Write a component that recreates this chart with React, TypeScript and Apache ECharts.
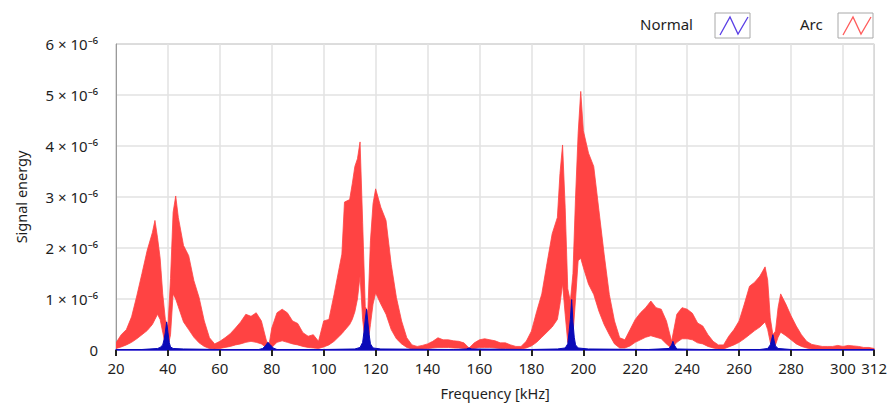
import React, { useEffect, useRef } from "react";
import * as echarts from "echarts";

// X axis (kHz)
const xMin = 20;
const xMax = 312;
const xInterval = 20;
// Y axis (×10⁻⁶)
const yMax = 6;
const yInterval = 1;

// Arc spectrum envelope: [frequency kHz, upper ×10⁻⁶, lower ×10⁻⁶]
const arcEnvelope: [number, number, number][] = [
  [20, 0.14, 0.03], [22, 0.3, 0.06], [24, 0.4, 0.1], [26, 0.65, 0.15], [28, 1.06, 0.22],
  [30, 1.5, 0.3], [32, 1.95, 0.38], [34, 2.3, 0.5], [35, 2.54, 0.6], [36, 2.2, 0.7],
  [37, 1.8, 0.6], [38, 1.1, 0.35], [39, 0.6, 0.1], [40, 0.45, 0.05], [41, 1.4, 0.3],
  [42, 2.7, 1.1], [43, 3.02, 1.0], [44, 2.6, 0.85], [46, 2.05, 0.55], [48, 1.85, 0.4],
  [50, 1.36, 0.25], [52, 1.03, 0.14], [54, 0.57, 0.07], [56, 0.24, 0.03], [58, 0.12, 0.02],
  [60, 0.17, 0.03], [62, 0.24, 0.05], [64, 0.32, 0.07], [66, 0.43, 0.1], [68, 0.55, 0.12],
  [70, 0.7, 0.15], [72, 0.66, 0.17], [74, 0.73, 0.15], [76, 0.57, 0.12], [78, 0.17, 0.04],
  [79, 0.12, 0.02], [80, 0.43, 0.05], [82, 0.73, 0.15], [84, 0.8, 0.18], [86, 0.73, 0.15],
  [88, 0.57, 0.12], [90, 0.52, 0.1], [92, 0.34, 0.07], [94, 0.27, 0.05], [96, 0.3, 0.04],
  [98, 0.17, 0.03], [100, 0.57, 0.06], [102, 0.6, 0.1], [104, 1.09, 0.17], [106, 1.62, 0.27],
  [107, 1.88, 0.32], [108, 2.9, 0.38], [110, 2.95, 0.5], [111, 3.26, 0.6], [112, 3.6, 0.75],
  [113, 3.75, 1.0], [114, 4.08, 1.45], [115, 2.5, 0.6], [116, 0.85, 0.15], [117, 0.75, 0.1],
  [118, 2.14, 0.5], [119, 2.87, 0.9], [120, 3.16, 1.12], [122, 2.8, 0.9], [124, 2.54, 0.7],
  [126, 1.68, 0.4], [128, 1.03, 0.22], [130, 0.57, 0.12], [132, 0.24, 0.05], [134, 0.1, 0.02],
  [136, 0.07, 0.02], [138, 0.09, 0.02], [140, 0.12, 0.03], [142, 0.17, 0.04], [144, 0.24, 0.05],
  [146, 0.2, 0.05], [148, 0.2, 0.05], [150, 0.18, 0.04], [152, 0.17, 0.04], [154, 0.14, 0.03],
  [156, 0.04, 0.01], [158, 0.14, 0.03], [160, 0.2, 0.05], [162, 0.22, 0.05], [164, 0.2, 0.05],
  [166, 0.18, 0.04], [168, 0.14, 0.03], [170, 0.14, 0.03], [172, 0.1, 0.02], [174, 0.07, 0.02],
  [176, 0.07, 0.02], [178, 0.17, 0.04], [180, 0.37, 0.08], [182, 0.75, 0.15], [184, 1.1, 0.25],
  [186, 1.7, 0.35], [188, 2.28, 0.45], [190, 2.6, 0.6], [191, 3.46, 0.9], [192, 4.02, 1.3],
  [193, 2.8, 0.7], [194, 1.2, 0.15], [195, 0.95, 0.1], [196, 1.5, 0.3], [197, 3.0, 1.0],
  [198, 4.25, 1.75], [199, 5.07, 1.8], [200, 4.3, 1.62], [202, 3.86, 1.29], [204, 3.6, 1.09],
  [206, 2.74, 0.76], [208, 1.88, 0.5], [210, 1.09, 0.3], [212, 0.57, 0.12], [214, 0.24, 0.04],
  [216, 0.2, 0.04], [218, 0.4, 0.08], [220, 0.6, 0.15], [222, 0.73, 0.2], [224, 0.83, 0.25],
  [226, 0.96, 0.28], [228, 0.83, 0.25], [230, 0.8, 0.22], [232, 0.57, 0.12], [234, 0.17, 0.03],
  [236, 0.7, 0.15], [238, 0.83, 0.22], [240, 0.8, 0.22], [242, 0.72, 0.2], [244, 0.53, 0.14],
  [246, 0.47, 0.12], [248, 0.3, 0.07], [250, 0.17, 0.04], [252, 0.1, 0.02], [254, 0.1, 0.02],
  [256, 0.27, 0.06], [258, 0.4, 0.1], [260, 0.57, 0.15], [262, 0.9, 0.22], [264, 1.25, 0.3],
  [266, 1.33, 0.38], [268, 1.45, 0.45], [270, 1.63, 0.55], [271, 1.37, 0.4], [272, 0.63, 0.15],
  [273, 0.3, 0.05], [274, 0.37, 0.1], [275, 0.83, 0.25], [276, 1.1, 0.35], [278, 0.9, 0.28],
  [280, 0.67, 0.2], [282, 0.47, 0.12], [284, 0.3, 0.07], [286, 0.17, 0.04], [288, 0.11, 0.02],
  [290, 0.09, 0.02], [292, 0.07, 0.01], [294, 0.07, 0.01], [296, 0.07, 0.01], [298, 0.09, 0.01],
  [300, 0.07, 0.01], [302, 0.09, 0.01], [304, 0.08, 0.01], [306, 0.07, 0.01], [308, 0.05, 0.01],
  [310, 0.05, 0.01], [312, 0.03, 0.01],
];

// Normal spectrum: [frequency kHz, value ×10⁻⁶]
const normalPoints: [number, number][] = [
  [20, 0.01], [30, 0.01], [36, 0.03], [37, 0.05], [38, 0.1], [38.5, 0.2], [39, 0.35],
  [39.5, 0.55], [40, 0.35], [40.5, 0.15], [41, 0.06], [42, 0.03], [46, 0.02], [60, 0.01],
  [75, 0.01], [76.5, 0.03], [77.5, 0.08], [78.5, 0.15], [79.5, 0.1], [80.5, 0.04], [82, 0.01],
  [100, 0.01], [112, 0.02], [114, 0.05], [115, 0.15], [115.5, 0.35], [116, 0.6], [116.5, 0.8],
  [117, 0.55], [117.5, 0.3], [118, 0.12], [119, 0.04], [122, 0.02], [150, 0.01], [155, 0.02],
  [156, 0.04], [157, 0.02], [180, 0.01], [190, 0.02], [193, 0.04], [194, 0.12], [194.5, 0.35],
  [195, 0.6], [195.5, 0.99], [196, 0.55], [196.5, 0.25], [197, 0.1], [198, 0.04], [202, 0.02],
  [225, 0.01], [233, 0.03], [234, 0.1], [234.5, 0.17], [235, 0.1], [236, 0.02], [245, 0.01],
  [268, 0.01], [271, 0.03], [272, 0.1], [272.5, 0.2], [273, 0.3], [273.5, 0.18], [274, 0.08],
  [275, 0.03], [280, 0.01], [312, 0.01],
];

const seriesNames = ["Normal", "Arc"];
const xTitle = "Frequency [kHz]";
const yTitle = "Signal energy";

const FONT = "'Noto Sans', 'Open Sans', sans-serif";
const TEXT = "#1e1e1e";
const RED = "#ff4343";
const BLUE = "#0a0ab8";

export default function App() {
  const ref = useRef<HTMLDivElement>(null);

  useEffect(() => {
    if (!ref.current) return;
    const chart = echarts.init(ref.current, undefined, { renderer: "svg" });

    const legendBox = (x: number, color: string) => [
      {
        type: "rect",
        shape: { x, y: 13, width: 35, height: 25 },
        style: { fill: "#fff", stroke: "#a8a8a8", lineWidth: 1 },
      },
      {
        type: "polyline",
        shape: {
          points: [
            [x + 5, 35],
            [x + 15, 17],
            [x + 23, 34],
            [x + 33, 17],
          ],
        },
        style: { stroke: color, lineWidth: 1.3, fill: "none" },
      },
    ];

    chart.setOption({
      animation: false,
      backgroundColor: "#fff",
      textStyle: { fontFamily: FONT },
      grid: {
        left: 116,
        right: 15,
        top: 44,
        bottom: 57,
        show: true,
        borderColor: "#9a9a9a",
        borderWidth: 1,
      },
      xAxis: {
        type: "value",
        min: xMin,
        max: xMax,
        interval: xInterval,
        name: xTitle,
        nameLocation: "middle",
        nameGap: 35,
        nameTextStyle: { fontSize: 14.5, color: TEXT, fontFamily: FONT },
        axisLine: { show: true, lineStyle: { color: "#5a4fd8", width: 2 } },
        axisTick: { show: true, length: 6, lineStyle: { color: "#222", width: 2 } },
        axisLabel: {
          fontSize: 15,
          color: TEXT,
          margin: 10,
          showMaxLabel: true,
          showMinLabel: true,
          fontFamily: FONT,
        },
        splitLine: { show: true, lineStyle: { color: "#e2e2e2", width: 1.5 } },
      },
      yAxis: {
        type: "value",
        min: 0,
        max: yMax,
        interval: yInterval,
        name: yTitle,
        nameLocation: "middle",
        nameGap: 88,
        nameTextStyle: { fontSize: 14.5, color: TEXT, fontFamily: FONT },
        axisLine: { show: true, lineStyle: { color: "#9a9a9a", width: 1 } },
        axisTick: { show: false },
        axisLabel: {
          fontSize: 15,
          color: TEXT,
          margin: 18,
          fontFamily: FONT,
          formatter: (v: number) => (v === 0 ? "0" : `${v} × 10\u207B\u2076`),
        },
        splitLine: { show: true, lineStyle: { color: "#e2e2e2", width: 1.5 } },
      },
      graphic: [
        {
          type: "text",
          left: 640,
          top: 16,
          style: { text: seriesNames[0], fontSize: 15, fill: TEXT, fontFamily: FONT },
        },
        ...legendBox(715, "#5a3fe6"),
        {
          type: "text",
          left: 800,
          top: 16,
          style: { text: seriesNames[1], fontSize: 15, fill: TEXT, fontFamily: FONT },
        },
        ...legendBox(838, "#ff5c5c"),
      ],
      series: [
        {
          name: seriesNames[1],
          type: "custom",
          data: [[xMin, 0]],
          clip: true,
          z: 3,
          renderItem: (_params: any, api: any) => {
            const top = arcEnvelope.map((d) => api.coord([d[0], d[1]]));
            const bottom = arcEnvelope
              .slice()
              .reverse()
              .map((d) => api.coord([d[0], d[2]]));
            return {
              type: "polygon",
              shape: { points: top.concat(bottom) },
              style: { fill: RED, stroke: RED, lineWidth: 0.8 },
            };
          },
        },
        {
          name: seriesNames[0],
          type: "line",
          data: normalPoints,
          showSymbol: false,
          symbol: "none",
          lineStyle: { color: BLUE, width: 1 },
          areaStyle: { color: BLUE, opacity: 1 },
          z: 4,
        },
      ],
    });

    return () => chart.dispose();
  }, []);

  return (
    <div
      ref={ref}
      style={{ position: "fixed", left: 0, top: 0, width: 890, height: 407 }}
    />
  );
}
